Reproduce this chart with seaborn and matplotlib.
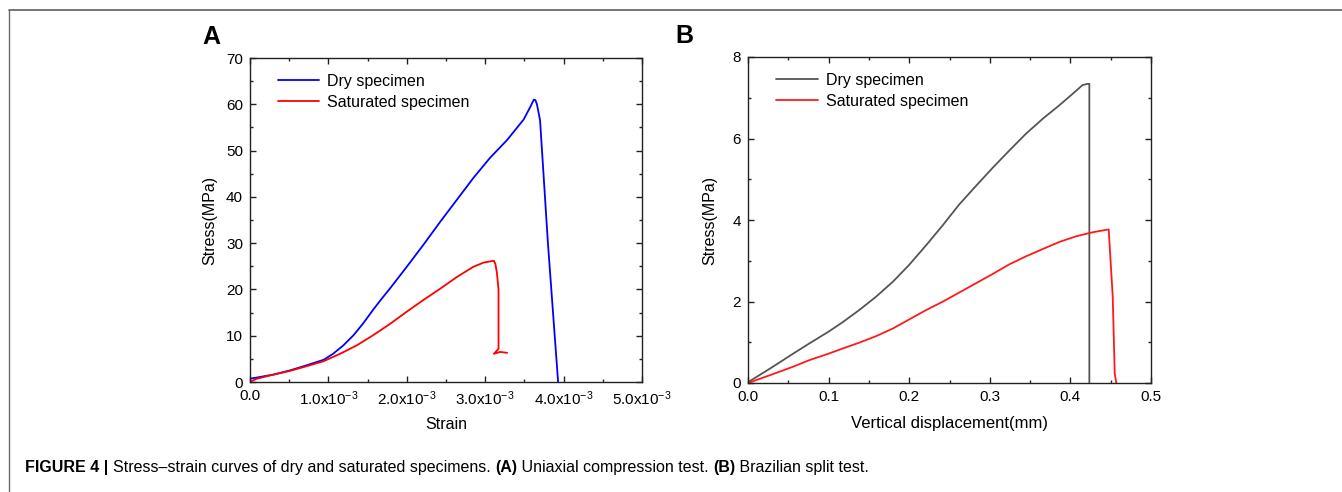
import matplotlib
matplotlib.use("Agg")
import matplotlib.pyplot as plt
from matplotlib.lines import Line2D
from matplotlib.ticker import MultipleLocator, FixedLocator, FormatStrFormatter
import seaborn as sns
import pandas as pd

# (A) Uniaxial compression: strain (x1e-3) vs stress (MPa)
dry_strain = [0.0, 0.30, 0.51, 0.72, 0.94, 1.06, 1.19, 1.32, 1.45, 1.57, 1.68, 1.79, 2.00,
              2.21, 2.43, 2.64, 2.85, 3.06, 3.28, 3.49, 3.58, 3.62, 3.64, 3.66, 3.69,
              3.70, 3.80, 3.93]
dry_stress = [0.7, 1.6, 2.5, 3.6, 4.8, 6.1, 7.9, 10.1, 12.8, 15.6, 18.0, 20.3, 24.9,
              29.6, 34.7, 39.4, 44.1, 48.4, 52.3, 56.7, 59.6, 61.0, 60.9, 60.0, 57.4,
              56.5, 30.0, 0.0]

sat_strain = [0.0, 0.085, 0.30, 0.51, 0.72, 0.94, 1.15, 1.36, 1.57, 1.79, 2.00, 2.21,
              2.43, 2.64, 2.85, 2.98, 3.11, 3.13, 3.15, 3.17, 3.17, 3.17, 3.15, 3.11,
              3.19, 3.28]
sat_stress = [0.0, 0.7, 1.6, 2.4, 3.4, 4.5, 6.1, 7.9, 10.1, 12.6, 15.2, 17.7,
              20.2, 22.7, 24.9, 25.8, 26.2, 25.5, 23.5, 19.9, 10.0, 7.2, 6.8, 6.1,
              6.5, 6.3]

# (B) Brazilian split: vertical displacement (mm) vs stress (MPa)
dry_disp = [0.0, 0.027, 0.056, 0.076, 0.10, 0.118, 0.138, 0.159, 0.18, 0.20, 0.221,
            0.242, 0.262, 0.283, 0.304, 0.324, 0.345, 0.366, 0.386, 0.403, 0.415,
            0.421, 0.4235, 0.4235]
dry_b_stress = [0.02, 0.35, 0.72, 0.97, 1.26, 1.50, 1.79, 2.12, 2.49, 2.90, 3.38,
                3.88, 4.38, 4.84, 5.29, 5.70, 6.12, 6.49, 6.81, 7.10, 7.31,
                7.34, 7.34, 0.0]

sat_disp = [0.0, 0.027, 0.056, 0.076, 0.10, 0.118, 0.138, 0.159, 0.18, 0.20, 0.221,
            0.242, 0.262, 0.283, 0.304, 0.324, 0.345, 0.366, 0.386, 0.407, 0.428,
            0.4475, 0.4525, 0.455, 0.457]
sat_b_stress = [0.0, 0.19, 0.40, 0.56, 0.72, 0.85, 0.99, 1.15, 1.34, 1.56, 1.79,
                2.00, 2.22, 2.45, 2.68, 2.91, 3.11, 3.29, 3.46, 3.60, 3.70,
                3.77, 2.12, 0.23, 0.0]

series_names = ["Dry specimen", "Saturated specimen"]
strain_ticks = ["0.0", r"1.0x10$^{-3}$", r"2.0x10$^{-3}$", r"3.0x10$^{-3}$",
                r"4.0x10$^{-3}$", r"5.0x10$^{-3}$"]

sns.set_style("ticks")
plt.rcParams["font.family"] = ["Liberation Sans", "DejaVu Sans"]
plt.rcParams["mathtext.fontset"] = "custom"
plt.rcParams["mathtext.rm"] = "Liberation Sans"
plt.rcParams["mathtext.it"] = "Liberation Sans"
for key in ("text.color", "axes.labelcolor", "xtick.color", "ytick.color"):
    plt.rcParams[key] = "black"

df_a = pd.concat([
    pd.DataFrame({"x": [v * 1e-3 for v in dry_strain], "y": dry_stress,
                  "s": series_names[0]}),
    pd.DataFrame({"x": [v * 1e-3 for v in sat_strain], "y": sat_stress,
                  "s": series_names[1]}),
])
df_b = pd.concat([
    pd.DataFrame({"x": dry_disp, "y": dry_b_stress, "s": series_names[0]}),
    pd.DataFrame({"x": sat_disp, "y": sat_b_stress, "s": series_names[1]}),
])

W, H = 1342, 492
fig = plt.figure(figsize=(W / 100, H / 100), dpi=100)
ax_a = fig.add_axes([250 / W, 1 - 382 / H, (642 - 250) / W, (382 - 58) / H])
ax_b = fig.add_axes([748 / W, 1 - 383 / H, (1151 - 748) / W, (383 - 57) / H])

sns.lineplot(data=df_a, x="x", y="y", hue="s", sort=False, estimator=None, units="s",
             palette={series_names[0]: "#0000ff", series_names[1]: "#ff0000"},
             linewidth=1.3, ax=ax_a)
sns.lineplot(data=df_b, x="x", y="y", hue="s", sort=False, estimator=None, units="s",
             palette={series_names[0]: "#555555", series_names[1]: "#ff1a1a"},
             linewidth=1.3, ax=ax_b)

ax_a.set_xlim(0, 5e-3)
ax_a.set_ylim(0, 70)
ax_a.xaxis.set_major_locator(FixedLocator([i * 1e-3 for i in range(6)]))
ax_a.set_xticklabels(strain_ticks)
ax_a.xaxis.set_minor_locator(MultipleLocator(0.5e-3))
ax_a.yaxis.set_major_locator(MultipleLocator(10))
ax_a.yaxis.set_minor_locator(MultipleLocator(5))
ax_a.set_xlabel("Strain", fontsize=11.5, labelpad=7)
ax_a.set_ylabel("Stress(MPa)", fontsize=11.5, labelpad=6)

ax_b.set_xlim(0, 0.5)
ax_b.set_ylim(0, 8)
ax_b.xaxis.set_major_locator(MultipleLocator(0.1))
ax_b.xaxis.set_minor_locator(MultipleLocator(0.05))
ax_b.yaxis.set_major_locator(MultipleLocator(2))
ax_b.yaxis.set_minor_locator(MultipleLocator(1))
ax_b.xaxis.set_major_formatter(FormatStrFormatter("%.1f"))
ax_b.set_xlabel("Vertical displacement(mm)", fontsize=12, labelpad=9)
ax_b.set_ylabel("Stress(MPa)", fontsize=11.5, labelpad=11)

for ax in (ax_a, ax_b):
    for sp in ax.spines.values():
        sp.set_visible(True)
        sp.set_color("#222222")
        sp.set_linewidth(1.0)
    ax.tick_params(which="both", direction="in", top=True, right=True,
                   colors="#222222", labelcolor="black", labelsize=11)
    ax.tick_params(which="major", length=4, width=1.0, pad=5)
    ax.tick_params(which="minor", length=2.5, width=1.0)
    leg = ax.legend(loc="upper left", frameon=False, fontsize=11.5, handlelength=2.6,
                    handletextpad=0.5, labelspacing=0.35, borderaxespad=0.6,
                    bbox_to_anchor=(0.03, 1.0))
    for ln in leg.get_lines():
        ln.set_linewidth(1.3)

fig.text(202 / W, 1 - 37 / H, "A", fontsize=18, fontweight="bold", va="center", ha="left")
fig.text(675 / W, 1 - 36 / H, "B", fontsize=18, fontweight="bold", va="center", ha="left")

# figure frame lines
fig.add_artist(Line2D([9 / W, 1], [1 - 10 / H, 1 - 10 / H], color="#6a6a6a", lw=1.3,
                      transform=fig.transFigure))
fig.add_artist(Line2D([9 / W, 9 / W], [0, 1 - 10 / H], color="#6a6a6a", lw=1.0,
                      transform=fig.transFigure))

# caption
cap_y = 1 - 472 / H
parts = [("FIGURE 4 | ", "bold"), ("Stress–strain curves of dry and saturated specimens. ", "normal"),
         ("(A)", "bold"), (" Uniaxial compression test. ", "normal"),
         ("(B)", "bold"), (" Brazilian split test.", "normal")]
fig.canvas.draw()
renderer = fig.canvas.get_renderer()
x = 25 / W
for txt, wt in parts:
    t = fig.text(x, cap_y, txt, fontsize=11.5, fontweight=wt, va="baseline", ha="left")
    bb = t.get_window_extent(renderer=renderer)
    x += bb.width / W

fig.savefig("out.png", dpi=100)
